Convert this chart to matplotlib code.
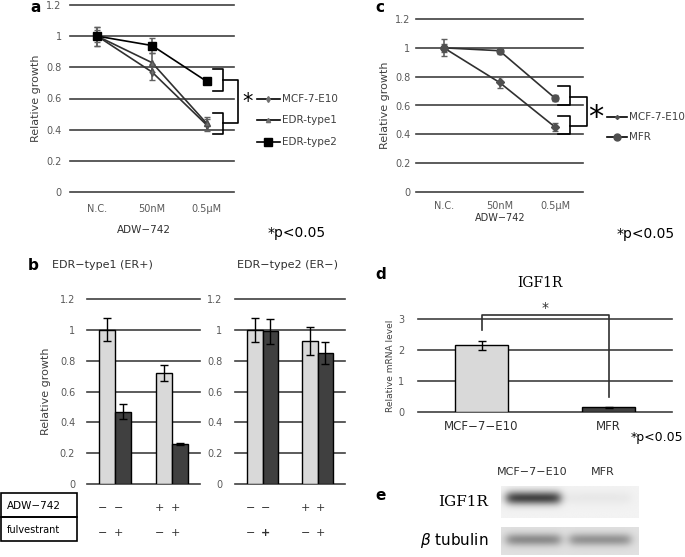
import numpy as np
import matplotlib
matplotlib.use('Agg')
import matplotlib.pyplot as plt
from matplotlib import transforms
from matplotlib.patches import Rectangle

plt.rcParams['font.family'] = ['DejaVu Sans']

# ---- data ----
doses = ['N.C.', '50nM', '0.5μM']

a_mcf = [1.0, 0.77, 0.43]
a_mcf_err = [0.06, 0.05, 0.04]
a_edr1 = [1.0, 0.83, 0.44]
a_edr1_err = [0.06, 0.06, 0.04]
a_edr2 = [1.0, 0.94, 0.71]
a_edr2_err = [0.04, 0.05, 0.01]

c_mcf = [1.0, 0.76, 0.45]
c_mcf_err = [0.06, 0.04, 0.03]
c_mfr = [1.0, 0.98, 0.65]
c_mfr_err = [0.03, 0.02, 0.02]

b_edr1_light = [1.0, 0.72]
b_edr1_light_err = [0.075, 0.05]
b_edr1_dark = [0.47, 0.26]
b_edr1_dark_err = [0.05, 0.005]
b_edr2_light = [1.0, 0.93]
b_edr2_light_err = [0.08, 0.09]
b_edr2_dark = [0.99, 0.85]
b_edr2_dark_err = [0.08, 0.07]
adw_signs = ['−', '−', '+', '+']
fulv_signs = ['−', '+', '−', '+']

d_cells = ['MCF−7−E10', 'MFR']
d_vals = [2.15, 0.15]
d_err = [0.15, 0.02]

e_igf1r = [0.68, 0.04]
e_tubulin = [0.33, 0.30]

growth_ticks = [0, 0.2, 0.4, 0.6, 0.8, 1.0, 1.2]
growth_labels = ['0', '0.2', '0.4', '0.6', '0.8', '1', '1.2']

W, H = 685, 557
fig = plt.figure(figsize=(W / 100, H / 100), dpi=100)

GRID = '#404040'
TICK = '#595959'


def box(x0, y0, x1, y1):
    return fig.add_axes([x0 / W, 1 - y1 / H, (x1 - x0) / W, (y1 - y0) / H])


def ftext(x, y, s, **kw):
    fig.text(x / W, 1 - y / H, s, **kw)


def grid_axes(ax, ticks, labels, xlim, fs=7, pad=6):
    ax.set_xlim(*xlim)
    ax.set_ylim(ticks[0], ticks[-1])
    for t in ticks:
        ax.axhline(t, color=GRID, lw=1.2, zorder=0, clip_on=False)
    for s in ax.spines.values():
        s.set_visible(False)
    ax.set_yticks(ticks)
    ax.set_yticklabels(labels, fontsize=fs, color=TICK)
    ax.tick_params(length=0)
    ax.tick_params(axis='y', pad=pad)
    ax.patch.set_alpha(0)


def bracket(ax, x0, x1, ya, yb):
    ax.plot([x0, x1, x1, x0], [ya, ya, yb, yb], color='black', lw=1.2, clip_on=False)


# ---- panel a ----
ax = box(70, 5, 234, 192)
grid_axes(ax, growth_ticks, growth_labels, (-0.5, 2.5), pad=6)
x = np.arange(len(doses))
ax.errorbar(x, a_mcf, yerr=a_mcf_err, color='#303030', marker='d', ms=4, lw=1.2,
            ecolor='#606060', capsize=2.5, mfc='#707070', mec='#505050')
ax.errorbar(x, a_edr1, yerr=a_edr1_err, color='#303030', marker='^', ms=4, lw=1.2,
            ecolor='#606060', capsize=2.5, mfc='#707070', mec='#505050')
ax.errorbar(x, a_edr2, yerr=a_edr2_err, color='black', marker='s', ms=6, lw=1.2,
            ecolor='#606060', capsize=2.5, mfc='black', mec='black')
ax.set_xticks(x)
ax.set_xticklabels(doses, fontsize=7, color=TICK)
ax.tick_params(axis='x', pad=9)
ax.set_ylabel('Relative growth', fontsize=8, color='#404040', labelpad=4)
bracket(ax, 2.12, 2.30, 0.79, 0.65)
bracket(ax, 2.12, 2.30, 0.51, 0.37)
ax.plot([2.30, 2.57, 2.57, 2.30], [0.72, 0.72, 0.44, 0.44], color='black', lw=1.2, clip_on=False)
ax.text(2.75, 0.58, '*', fontsize=15, ha='center', va='center')
leg_a = [('MCF-7-E10', 'd', 3, '#707070'), ('EDR-type1', '^', 3, '#707070'), ('EDR-type2', 's', 6, 'black')]
for i, (lab, m, ms, c) in enumerate(leg_a):
    yy = 0.60 - i * 0.14
    ax.plot([2.92, 3.34], [yy, yy], color='black', lw=1.2, clip_on=False)
    ax.plot([3.13], [yy], marker=m, ms=ms, color=c, clip_on=False)
    ax.text(3.37, yy, lab, fontsize=7.5, color='#404040', va='center')
ftext(30, 7, 'a', fontsize=11, fontweight='bold', va='center')
ftext(144, 230, 'ADW−742', fontsize=7.5, ha='center', va='center', color='#303030')
ftext(268, 233, '*p<0.05', fontsize=10, va='center')

# ---- panel c ----
ax = box(416, 19, 583, 192)
grid_axes(ax, growth_ticks, growth_labels, (-0.5, 2.5), pad=4)
ax.errorbar(x, c_mcf, yerr=c_mcf_err, color='#303030', marker='D', ms=4, lw=1.2,
            ecolor='#606060', capsize=2.5, mfc='#505050', mec='#505050')
ax.errorbar(x, c_mfr, yerr=c_mfr_err, color='#303030', marker='o', ms=5, lw=1.2,
            ecolor='#606060', capsize=2.5, mfc='#505050', mec='#505050')
ax.set_xticks(x)
ax.set_xticklabels(doses, fontsize=7, color=TICK)
ax.tick_params(axis='x', pad=6.5)
ax.set_ylabel('Relative growth', fontsize=8, color='#404040', labelpad=4)
bracket(ax, 2.05, 2.27, 0.735, 0.60)
bracket(ax, 2.05, 2.27, 0.53, 0.40)
ax.plot([2.27, 2.57, 2.57, 2.27], [0.66, 0.66, 0.46, 0.46], color='black', lw=1.2, clip_on=False)
ax.text(2.72, 0.52, '*', fontsize=22, ha='center', va='center')
leg_c = [('MCF-7-E10', 'D', 2, '#505050'), ('MFR', 'o', 5, '#505050')]
for i, (lab, m, ms, c) in enumerate(leg_c):
    yy = 0.52 - i * 0.14
    ax.plot([2.93, 3.29], [yy, yy], color='black', lw=1.2, clip_on=False)
    ax.plot([3.11], [yy], marker=m, ms=ms, color=c, clip_on=False)
    ax.text(3.33, yy, lab, fontsize=7.5, color='#404040', va='center')
ftext(375, 8, 'c', fontsize=11, fontweight='bold', va='center')
ftext(500, 218, 'ADW−742', fontsize=7, ha='center', va='center', color='#303030')
ftext(617, 234, '*p<0.05', fontsize=10, va='center')

# ---- panel b ----
bw = 0.28
gx = np.arange(2)
b_sets = [((87, 200), b_edr1_light, b_edr1_light_err, b_edr1_dark, b_edr1_dark_err, 8.5),
          ((235, 345), b_edr2_light, b_edr2_light_err, b_edr2_dark, b_edr2_dark_err, 9)]
for k, ((x0, x1), lv, le, dv, de, pd) in enumerate(b_sets):
    ax = box(x0, 299, x1, 484)
    grid_axes(ax, growth_ticks, growth_labels, (-0.5, 1.5), pad=pd)
    ax.bar(gx - bw / 2, lv, bw, yerr=le, color='#d9d9d9', edgecolor='black', lw=1,
           capsize=3, error_kw=dict(lw=1, ecolor='black'), zorder=2)
    ax.bar(gx + bw / 2, dv, bw, yerr=de, color='#404040', edgecolor='black', lw=1,
           capsize=3, error_kw=dict(lw=1, ecolor='black'), zorder=2)
    ax.set_xticks([])
    tr = transforms.blended_transform_factory(ax.transData, fig.transFigure)
    pos = [gx[0] - bw / 2, gx[0] + bw / 2, gx[1] - bw / 2, gx[1] + bw / 2]
    for p, s1, s2 in zip(pos, adw_signs, fulv_signs):
        ax.text(p - 0.08, 1 - 508 / H, s1, transform=tr, ha='center', va='center', fontsize=8, color='#303030')
        bold = 'bold' if (k == 1 and p == pos[1]) else 'normal'
        ax.text(p - 0.08, 1 - 533 / H, s2, transform=tr, ha='center', va='center', fontsize=8,
                color='#303030', fontweight=bold)
    if k == 0:
        ax.set_ylabel('Relative growth', fontsize=8, color='#404040', labelpad=6)
ftext(28, 265, 'b', fontsize=11, fontweight='bold', va='center')
ftext(52, 265, 'EDR−type1 (ER+)', fontsize=8, va='center', color='#303030')
ftext(237, 265, 'EDR−type2 (ER−)', fontsize=8, va='center', color='#303030')
fig.patches.append(Rectangle((1 / W, 1 - 517 / H), 76 / W, 24 / H, transform=fig.transFigure,
                             fill=False, edgecolor='black', lw=1.2))
fig.patches.append(Rectangle((1 / W, 1 - 541 / H), 76 / W, 24 / H, transform=fig.transFigure,
                             fill=False, edgecolor='black', lw=1.2))
ftext(7, 506, 'ADW−742', fontsize=7.5, va='center')
ftext(7, 530, 'fulvestrant', fontsize=7, va='center')

# ---- panel d ----
ax = box(418, 319, 672, 412)
grid_axes(ax, [0, 1, 2, 3], ['0', '1', '2', '3'], (-0.5, 1.5), fs=7, pad=10)
dx = np.arange(len(d_cells))
ax.bar(dx, d_vals, 0.41, yerr=d_err, color=['#d9d9d9', '#404040'], edgecolor='black', lw=1,
       capsize=3, error_kw=dict(lw=1, ecolor='black'), zorder=2)
ax.set_xticks(dx)
ax.set_xticklabels(d_cells, fontsize=8.5, color='#303030')
ax.tick_params(axis='x', pad=6)
ax.plot([0, 0, 1, 1], [2.65, 3.13, 3.13, 0.47], color='#303030', lw=1.2, clip_on=False)
ax.text(0.5, 3.35, '*', fontsize=10, ha='center', va='center', color='#303030')
ax.set_ylabel('Relative mRNA level', fontsize=6.5, color='#404040', labelpad=2)
ftext(540, 283, 'IGF1R', fontsize=10, ha='center', va='center', family='DejaVu Serif')
ftext(375, 275, 'd', fontsize=11, fontweight='bold', va='center')
ftext(631, 438, '*p<0.05', fontsize=9, va='center')

# ---- panel e (blot) ----
lanes = [(0.04, 0.43), (0.50, 0.94)]


def blot(vals, yc, sy, bg):
    ny, nx = 60, 240
    yy = np.linspace(0, 1, ny)[:, None]
    xx = np.linspace(0, 1, nx)[None, :]
    img = np.full((ny, nx), bg)
    for (l0, l1), v in zip(lanes, vals):
        px = 1 / (1 + np.exp(-(xx - l0) / 0.02)) * 1 / (1 + np.exp((xx - l1) / 0.02))
        py = np.exp(-((yy - yc) / sy) ** 2 / 2)
        img = img + v * px * py
    return img


ax = box(501, 486, 638, 518)
ax.imshow(blot(e_igf1r, 0.37, 0.15, 0.05), cmap='gray_r', vmin=0, vmax=1, aspect='auto')
ax.axis('off')
ax = box(501, 527, 638, 555)
ax.imshow(blot(e_tubulin, 0.45, 0.16, 0.12), cmap='gray_r', vmin=0, vmax=1, aspect='auto')
ax.axis('off')
ftext(532, 472, 'MCF−7−E10', fontsize=8, ha='center', va='center', color='#303030')
ftext(603, 472, 'MFR', fontsize=8, ha='center', va='center', color='#303030')
ftext(488, 502, 'IGF1R', fontsize=11, ha='right', va='center', family='DejaVu Serif')
ftext(488, 541, r'$\beta$ tubulin', fontsize=11, ha='right', va='center')
ftext(375, 495, 'e', fontsize=11, fontweight='bold', va='center')

fig.savefig('out.png', dpi=100)
